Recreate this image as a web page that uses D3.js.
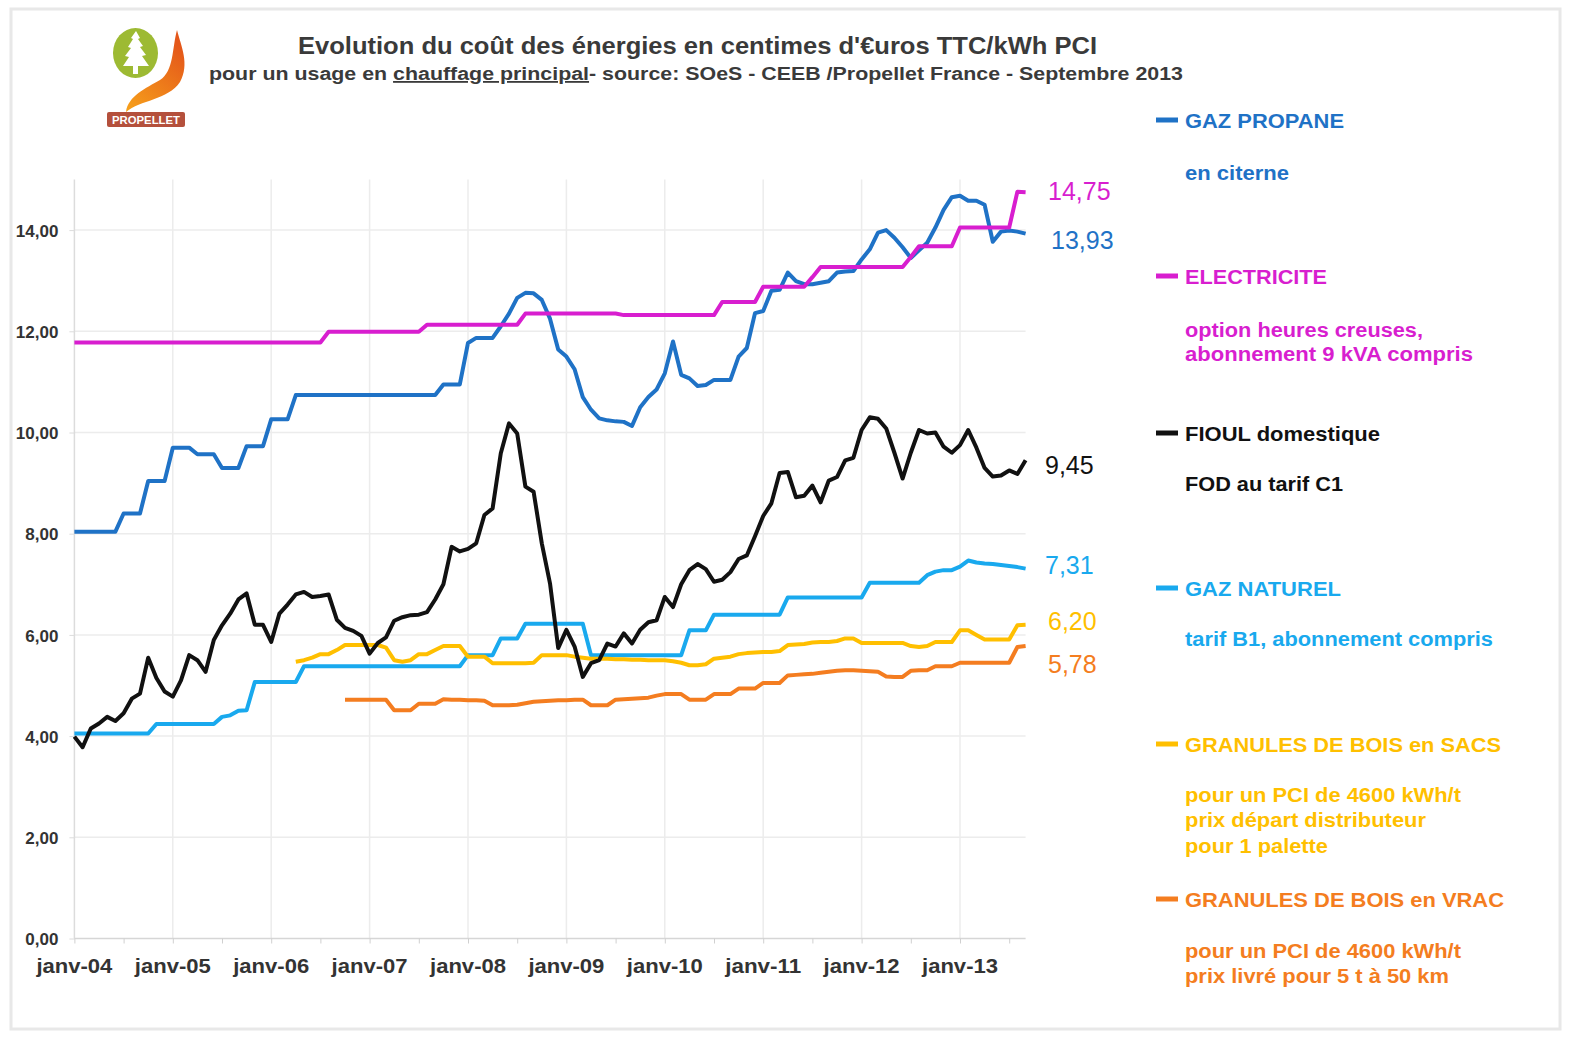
<!DOCTYPE html>
<html><head><meta charset="utf-8">
<script src="https://cdn.jsdelivr.net/npm/d3@7"></script>
<style>
body{margin:0;background:#fff}
svg{display:block}
text{font-family:"Liberation Sans",Arial,Helvetica,sans-serif}
</style>
</head><body>
<svg id="chart" width="1576" height="1048"></svg>
<script>
// ---------- DATA (monthly values, janv-04 = month 0 ... sept-13 = month 116) ----------
const tickLabels = ["janv-04","janv-05","janv-06","janv-07","janv-08","janv-09","janv-10","janv-11","janv-12","janv-13"];
const yTicks = [0,2,4,6,8,10,12,14];
const yTickLabels = ["0,00","2,00","4,00","6,00","8,00","10,00","12,00","14,00"];

const propane = [8.04,8.04,8.04,8.04,8.04,8.04,8.40,8.40,8.40,9.04,9.04,9.04,
 9.70,9.70,9.70,9.57,9.57,9.57,9.30,9.30,9.30,9.73,9.73,9.73,
 10.26,10.26,10.26,10.74,10.74,10.74,10.74,10.74,10.74,10.74,10.74,10.74,
 10.74,10.74,10.74,10.74,10.74,10.74,10.74,10.74,10.74,10.95,10.95,10.95,
 11.77,11.87,11.87,11.87,12.10,12.35,12.66,12.76,12.75,12.62,12.25,11.64,
 11.50,11.25,10.70,10.45,10.28,10.24,10.22,10.21,10.13,10.50,10.70,10.85,
 11.17,11.80,11.14,11.07,10.92,10.94,11.04,11.04,11.04,11.50,11.67,12.36,
 12.40,12.80,12.82,13.16,12.99,12.93,12.93,12.96,12.99,13.16,13.18,13.19,
 13.42,13.62,13.95,14.00,13.85,13.66,13.45,13.60,13.75,14.05,14.40,14.65,
 14.68,14.58,14.58,14.50,13.77,13.97,13.99,13.97,13.93];

const electricite = [11.78,11.78,11.78,11.78,11.78,11.78,11.78,11.78,11.78,11.78,11.78,11.78,
 11.78,11.78,11.78,11.78,11.78,11.78,11.78,11.78,11.78,11.78,11.78,11.78,
 11.78,11.78,11.78,11.78,11.78,11.78,11.78,11.99,11.99,11.99,11.99,11.99,
 11.99,11.99,11.99,11.99,11.99,11.99,11.99,12.13,12.13,12.13,12.13,12.13,
 12.13,12.13,12.13,12.13,12.13,12.13,12.13,12.35,12.35,12.35,12.35,12.35,
 12.35,12.35,12.35,12.35,12.35,12.35,12.35,12.32,12.32,12.32,12.32,12.32,
 12.32,12.32,12.32,12.32,12.32,12.32,12.32,12.58,12.58,12.58,12.58,12.58,
 12.88,12.88,12.88,12.88,12.88,12.88,13.07,13.27,13.27,13.27,13.27,13.27,
 13.27,13.27,13.27,13.27,13.27,13.27,13.47,13.68,13.68,13.68,13.68,13.68,
 14.05,14.05,14.05,14.05,14.05,14.05,14.05,14.76,14.75];

const fioul = [3.99,3.78,4.15,4.25,4.38,4.30,4.45,4.74,4.84,5.55,5.15,4.88,
 4.78,5.10,5.60,5.50,5.27,5.90,6.19,6.42,6.70,6.82,6.20,6.20,
 5.86,6.42,6.60,6.80,6.85,6.75,6.77,6.80,6.30,6.14,6.08,5.98,
 5.63,5.84,5.95,6.28,6.35,6.39,6.40,6.45,6.70,7.00,7.74,7.65,
 7.70,7.81,8.37,8.50,9.59,10.18,9.98,8.93,8.83,7.81,7.02,5.74,
 6.10,5.77,5.17,5.44,5.50,5.83,5.77,6.03,5.83,6.10,6.25,6.29,
 6.75,6.55,7.00,7.28,7.40,7.30,7.05,7.09,7.24,7.50,7.57,7.95,
 8.35,8.60,9.20,9.22,8.72,8.75,8.95,8.62,9.05,9.12,9.45,9.50,
 10.05,10.30,10.27,10.08,9.60,9.09,9.60,10.05,9.98,10.00,9.72,9.60,
 9.75,10.05,9.70,9.30,9.13,9.15,9.25,9.18,9.45];

const gazNaturel = [4.05,4.05,4.05,4.05,4.05,4.05,4.05,4.05,4.05,4.05,4.24,4.24,
 4.24,4.24,4.24,4.24,4.24,4.24,4.38,4.41,4.50,4.51,5.07,5.07,
 5.07,5.07,5.07,5.07,5.38,5.38,5.38,5.38,5.38,5.38,5.38,5.38,
 5.38,5.38,5.38,5.38,5.38,5.38,5.38,5.38,5.38,5.38,5.38,5.38,
 5.60,5.60,5.60,5.60,5.93,5.93,5.93,6.22,6.22,6.22,6.22,6.22,
 6.22,6.22,6.22,5.60,5.60,5.60,5.60,5.60,5.60,5.60,5.60,5.60,
 5.60,5.60,5.60,6.09,6.09,6.09,6.40,6.40,6.40,6.40,6.40,6.40,
 6.40,6.40,6.40,6.74,6.74,6.74,6.74,6.74,6.74,6.74,6.74,6.74,
 6.74,7.03,7.03,7.03,7.03,7.03,7.03,7.03,7.18,7.25,7.28,7.28,
 7.35,7.47,7.43,7.41,7.40,7.38,7.36,7.34,7.31];

const sacsStart = 27; // first month with data
const granulesSacs = [5.47,5.50,5.55,5.62,5.62,5.70,5.80,5.80,5.80,5.80,5.80,5.75,5.50,5.47,5.50,5.62,5.62,5.70,5.78,5.78,5.78,
 5.57,5.57,5.57,5.44,5.44,5.44,5.44,5.44,5.45,5.60,5.60,5.60,
 5.60,5.57,5.55,5.53,5.53,5.53,5.52,5.52,5.51,5.51,5.50,5.50,
 5.50,5.48,5.45,5.40,5.40,5.42,5.53,5.55,5.57,5.62,5.64,5.65,
 5.66,5.66,5.68,5.80,5.81,5.82,5.85,5.86,5.86,5.88,5.93,5.93,
 5.84,5.84,5.84,5.84,5.84,5.84,5.78,5.76,5.78,5.86,5.86,5.86,
 6.09,6.09,6.00,5.91,5.91,5.91,5.91,6.19,6.20];

const vracStart = 33;
const granulesVrac = [4.72,4.72,4.72,4.72,4.72,4.72,4.51,4.51,4.51,4.64,4.64,4.64,4.73,4.72,4.72,
 4.71,4.71,4.70,4.61,4.61,4.61,4.62,4.65,4.68,4.69,4.70,4.71,
 4.71,4.72,4.72,4.61,4.61,4.61,4.72,4.73,4.74,4.75,4.76,4.80,
 4.83,4.83,4.83,4.72,4.72,4.72,4.83,4.83,4.83,4.94,4.94,4.94,
 5.05,5.05,5.05,5.20,5.21,5.22,5.23,5.25,5.27,5.29,5.30,5.30,
 5.29,5.28,5.27,5.18,5.17,5.17,5.29,5.30,5.30,5.38,5.38,5.38,
 5.45,5.45,5.45,5.45,5.45,5.45,5.45,5.76,5.78];

const endLabels = ["13,93","14,75","9,45","7,31","6,20","5,78"];

const legendTitles = ["GAZ PROPANE","ELECTRICITE","FIOUL domestique","GAZ NATUREL","GRANULES DE BOIS en SACS","GRANULES DE BOIS en VRAC"];
const legendNotes = [["en citerne"],["option heures creuses,","abonnement 9 kVA compris"],["FOD au tarif C1"],["tarif B1, abonnement compris"],
  ["pour un PCI de 4600 kWh/t","prix départ distributeur","pour 1 palette"],["pour un PCI de 4600 kWh/t","prix livré pour 5 t à 50 km"]];

// ---------- STYLE / LAYOUT ----------
const colors = ["#1f72c6","#d81ecf","#111111","#19a9ee","#ffbf00","#f47d20"];
const seriesValues = [propane, electricite, fioul, gazNaturel, granulesSacs, granulesVrac];
const seriesStart = [0,0,0,0,sacsStart,vracStart];
const drawOrder = [0,1,3,4,5,2];
const labelPos = [{x:1051,dy:6},{x:1048,dy:-1},{x:1045,dy:5},{x:1045,dy:-4},{x:1048,dy:-4},{x:1048,dy:18}];
const legendY = [128,284,441,596,752,907];
const legendNoteY = [[180],[337,361],[491],[646],[802,827,853],[958,983]];
const legendTitleW = [159,142,195,156,316,319];
const legendNoteW = [[104],[238,288],[158],[308],[276,241,143],[276,264]];

const svg = d3.select("#chart");
const x = d3.scaleLinear().domain([0,116]).range([74.4,1025.6]);
const y = d3.scaleLinear().domain([0,15]).range([938.5,179.5]);

// frame
svg.append("rect").attr("x",11).attr("y",9).attr("width",1549).attr("height",1020)
  .attr("fill","#fff").attr("stroke","#e8e8e8").attr("stroke-width",3);

// logo
const logo = svg.append("g");
logo.append("ellipse").attr("cx",135.5).attr("cy",53).attr("rx",22.5).attr("ry",25).attr("fill","#9dba33");
logo.append("path").attr("fill","#fff")
  .attr("d","M136,31 L140,38 L138,39 L143,46 L140,47 L146,55 L142,56 L149,66 L138,66 L138,74 L133,74 L133,66 L123,66 L129,57 L125,56 L131,48 L128,47 L133,39 L131,38 Z");
const grad = svg.append("defs").append("linearGradient").attr("id","flame").attr("x1","0").attr("y1","1").attr("x2","0.6").attr("y2","0");
grad.append("stop").attr("offset","0").attr("stop-color","#f7a21b");
grad.append("stop").attr("offset","1").attr("stop-color","#e4571a");
logo.append("path").attr("fill","url(#flame)")
  .attr("d","M126,112 C128,96 146,88 160,80 C174,71 172,48 177,30 C181,46 190,64 180,82 C168,100 140,100 126,112 Z");
logo.append("rect").attr("x",107).attr("y",112).attr("width",78).attr("height",15).attr("rx",2).attr("fill","#b4503c");
logo.append("text").attr("x",146).attr("y",123.5).attr("text-anchor","middle").attr("font-size",10).attr("font-weight","bold")
  .attr("fill","#fff").attr("textLength",68).attr("lengthAdjust","spacingAndGlyphs").text("PROPELLET");

// titles
svg.append("text").attr("x",298).attr("y",54).attr("font-size",23).attr("font-weight","bold").attr("fill","#3a3a3a")
  .attr("textLength",799).attr("lengthAdjust","spacingAndGlyphs")
  .text("Evolution du coût des énergies en centimes d'€uros TTC/kWh PCI");
const sub = svg.append("text").attr("x",209).attr("y",80).attr("font-size",18).attr("font-weight","bold").attr("fill","#3a3a3a")
  .attr("textLength",974).attr("lengthAdjust","spacingAndGlyphs");
sub.append("tspan").text("pour un usage en ");
sub.append("tspan").attr("text-decoration","underline").text("chauffage principal");
sub.append("tspan").text("- source: SOeS - CEEB /Propellet France - Septembre 2013");

// grid
const monthTicks = tickLabels.map((d,i)=>i*12);
svg.append("g").selectAll("line").data(yTicks.slice(1)).join("line")
  .attr("x1",x(0)).attr("x2",x(116)).attr("y1",d=>y(d)).attr("y2",d=>y(d))
  .attr("stroke","#ececec").attr("stroke-width",1.5);
svg.append("g").selectAll("line").data(monthTicks.slice(1)).join("line")
  .attr("x1",d=>x(d)).attr("x2",d=>x(d)).attr("y1",y(15)).attr("y2",y(0))
  .attr("stroke","#ececec").attr("stroke-width",1.5);

// axes
const yAxis = d3.axisLeft(y).tickValues(yTicks).tickSize(5).tickFormat((d,i)=>yTickLabels[i]);
const gy = svg.append("g").attr("transform",`translate(${x(0)},0)`).call(yAxis);
gy.select(".domain").attr("stroke","#dcdcdc").attr("stroke-width",1.5).attr("d",`M0,${y(15)}V${y(0)}`);
gy.selectAll(".tick line").attr("stroke","#dcdcdc");
gy.selectAll(".tick text").attr("font-size",17).attr("font-weight","bold").attr("fill","#333")
  .attr("font-family","'Liberation Sans',Arial,sans-serif").attr("x",-16).attr("dy","0.36em");

const minor = d3.range(0,115,6);
const xAxis = d3.axisBottom(x).tickValues(minor).tickSize(5).tickFormat(()=>"");
const gx = svg.append("g").attr("transform",`translate(0,${y(0)})`).call(xAxis);
gx.select(".domain").attr("stroke","#d6d6d6").attr("stroke-width",1.5).attr("d",`M${x(0)},0H${x(116)}`);
gx.selectAll(".tick line").attr("stroke","#d0d0d0");
svg.append("g").selectAll("text").data(tickLabels).join("text")
  .attr("x",(d,i)=>x(monthTicks[i])).attr("y",973).attr("text-anchor","middle")
  .attr("font-size",21).attr("font-weight","bold").attr("fill","#333")
  .attr("textLength",76).attr("lengthAdjust","spacingAndGlyphs").text(d=>d);

// lines
const line = d3.line().x(d=>x(d.m)).y(d=>y(d.v));
drawOrder.forEach(k=>{
  const pts = seriesValues[k].map((v,i)=>({m:i+seriesStart[k], v}));
  svg.append("path").datum(pts).attr("d",line).attr("fill","none")
    .attr("stroke",colors[k]).attr("stroke-width",4).attr("stroke-linejoin","round").attr("stroke-linecap","butt");
});

// end labels
seriesValues.forEach((vals,k)=>{
  const last = vals[vals.length-1];
  svg.append("text").attr("x",labelPos[k].x).attr("y",y(last)+labelPos[k].dy+9)
    .attr("font-size",25).attr("fill",colors[k]).text(endLabels[k]);
});

// legend
legendTitles.forEach((t,k)=>{
  svg.append("line").attr("x1",1156).attr("x2",1178).attr("y1",legendY[k]-8).attr("y2",legendY[k]-8)
    .attr("stroke",colors[k]).attr("stroke-width",5);
  svg.append("text").attr("x",1185).attr("y",legendY[k]).attr("font-size",21).attr("font-weight","bold")
    .attr("fill",colors[k]).attr("textLength",legendTitleW[k]).attr("lengthAdjust","spacingAndGlyphs").text(t);
  legendNotes[k].forEach((n,j)=>{
    svg.append("text").attr("x",1185).attr("y",legendNoteY[k][j]).attr("font-size",20).attr("font-weight","bold")
      .attr("fill",colors[k]).attr("textLength",legendNoteW[k][j]).attr("lengthAdjust","spacingAndGlyphs").text(n);
  });
});
</script>
</body></html>
